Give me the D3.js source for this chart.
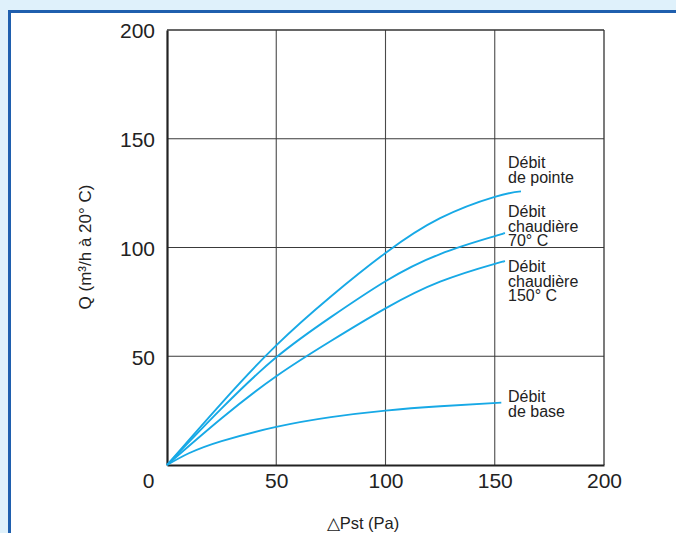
<!DOCTYPE html>
<html>
<head>
<meta charset="utf-8">
<script src="https://cdn.jsdelivr.net/npm/d3@7"></script>
<style>
  html, body { margin: 0; padding: 0; background: #dff1fb; }
  svg { display: block; font-family: "Liberation Sans", Arial, Helvetica, sans-serif; }
</style>
</head>
<body>
<div id="chart"></div>
<script>
// tick values
const xTicks = [0, 50, 100, 150, 200];
const yTicks = [50, 100, 150, 200];

// series (ΔPst in Pa, Q in m3/h)
const pointeX = [0, 25, 50, 75, 100, 125, 150, 162];
const pointeY = [0, 28.5, 55, 77.5, 97.5, 113.5, 123.3, 125.8];
const chaud70X = [0, 25, 50, 75, 100, 125, 150, 154];
const chaud70Y = [0, 26, 49.5, 68, 84.5, 97, 105.2, 106.6];
const chaud150X = [0, 25, 50, 75, 100, 125, 150, 154];
const chaud150Y = [0, 21.5, 40.8, 57, 72, 84.3, 92.5, 93.5];
const baseX = [0, 10, 25, 50, 75, 100, 125, 153];
const baseY = [0, 5.4, 11, 17.5, 22, 25, 27, 28.7];

const labels = [
    ["Débit", "de pointe"],
    ["Débit", "chaudière", "70° C"],
    ["Débit", "chaudière", "150° C"],
    ["Débit", "de base"]
];
const labelTop = [168, 217, 272, 402];

const W = 676, H = 533;
const svg = d3.select("#chart").append("svg")
    .attr("width", W)
    .attr("height", H);

// frame
svg.append("rect").attr("x", 0).attr("y", 0).attr("width", W).attr("height", H).attr("fill", "#dff1fb");
svg.append("rect").attr("x", 9.5).attr("y", 11.5).attr("width", W + 20).attr("height", H + 20)
    .attr("fill", "#fff").attr("stroke", "#1f5fae").attr("stroke-width", 3);

const x = d3.scaleLinear().domain([0, 200]).range([167, 604]);
const y = d3.scaleLinear().domain([0, 200]).range([465, 30]);

// grid
const grid = svg.append("g");
grid.selectAll("line.v")
    .data([50, 100, 150])
    .enter().append("line")
    .attr("x1", d => x(d)).attr("x2", d => x(d))
    .attr("y1", y(0)).attr("y2", y(200))
    .attr("stroke", "#4a4a4a").attr("stroke-width", 1.1);
grid.selectAll("line.h")
    .data([50, 100, 150])
    .enter().append("line")
    .attr("y1", d => y(d)).attr("y2", d => y(d))
    .attr("x1", x(0)).attr("x2", x(200))
    .attr("stroke", "#3a3a3a").attr("stroke-width", 1.1);

// box: top/right thin, left/bottom thick
svg.append("line").attr("x1", x(0)).attr("x2", x(200)).attr("y1", y(200)).attr("y2", y(200))
    .attr("stroke", "#333").attr("stroke-width", 1.3);
svg.append("line").attr("x1", x(200)).attr("x2", x(200)).attr("y1", y(0)).attr("y2", y(200))
    .attr("stroke", "#333").attr("stroke-width", 1.3);

// axes
const xAxis = svg.append("g")
    .attr("transform", `translate(0,${y(0)})`)
    .call(d3.axisBottom(x).tickValues(xTicks).tickSize(0).tickPadding(8));
xAxis.select(".domain").attr("stroke", "#222").attr("stroke-width", 2.2);
xAxis.selectAll("text").attr("font-size", 21).attr("fill", "#222")
    .attr("font-family", "Liberation Sans, Arial, sans-serif");
xAxis.selectAll(".tick").filter(d => d === 0).select("text").attr("x", -19);

const yAxis = svg.append("g")
    .attr("transform", `translate(${x(0)},0)`)
    .call(d3.axisLeft(y).tickValues(yTicks).tickSize(0).tickPadding(12));
yAxis.select(".domain").attr("stroke", "#222").attr("stroke-width", 2.2);
yAxis.selectAll("text").attr("font-size", 21).attr("fill", "#222").attr("dy", "0.38em")
    .attr("font-family", "Liberation Sans, Arial, sans-serif");

// axis titles
svg.append("text")
    .attr("transform", "translate(91,247) rotate(-90)")
    .attr("text-anchor", "middle")
    .attr("font-size", 17)
    .attr("fill", "#222")
    .text("Q (m³/h à 20° C)");

svg.append("text")
    .attr("x", 363).attr("y", 529)
    .attr("text-anchor", "middle")
    .attr("font-size", 16.5)
    .attr("fill", "#222")
    .text("△Pst (Pa)");

// curves
const series = [
    d3.zip(pointeX, pointeY),
    d3.zip(chaud70X, chaud70Y),
    d3.zip(chaud150X, chaud150Y),
    d3.zip(baseX, baseY)
];
const line = d3.line()
    .x(d => x(d[0]))
    .y(d => y(d[1]))
    .curve(d3.curveNatural);

svg.append("g").selectAll("path")
    .data(series)
    .enter().append("path")
    .attr("d", line)
    .attr("fill", "none")
    .attr("stroke", "#17a9e6")
    .attr("stroke-width", 1.9);

// curve labels
const lab = svg.append("g").selectAll("text")
    .data(labels)
    .enter().append("text")
    .attr("x", 508)
    .attr("y", (d, i) => labelTop[i])
    .attr("font-size", 16)
    .attr("fill", "#222");
lab.selectAll("tspan")
    .data(d => d)
    .enter().append("tspan")
    .attr("x", 508)
    .attr("dy", (d, i) => i === 0 ? 0 : 14.5)
    .text(d => d);
</script>
</body>
</html>
